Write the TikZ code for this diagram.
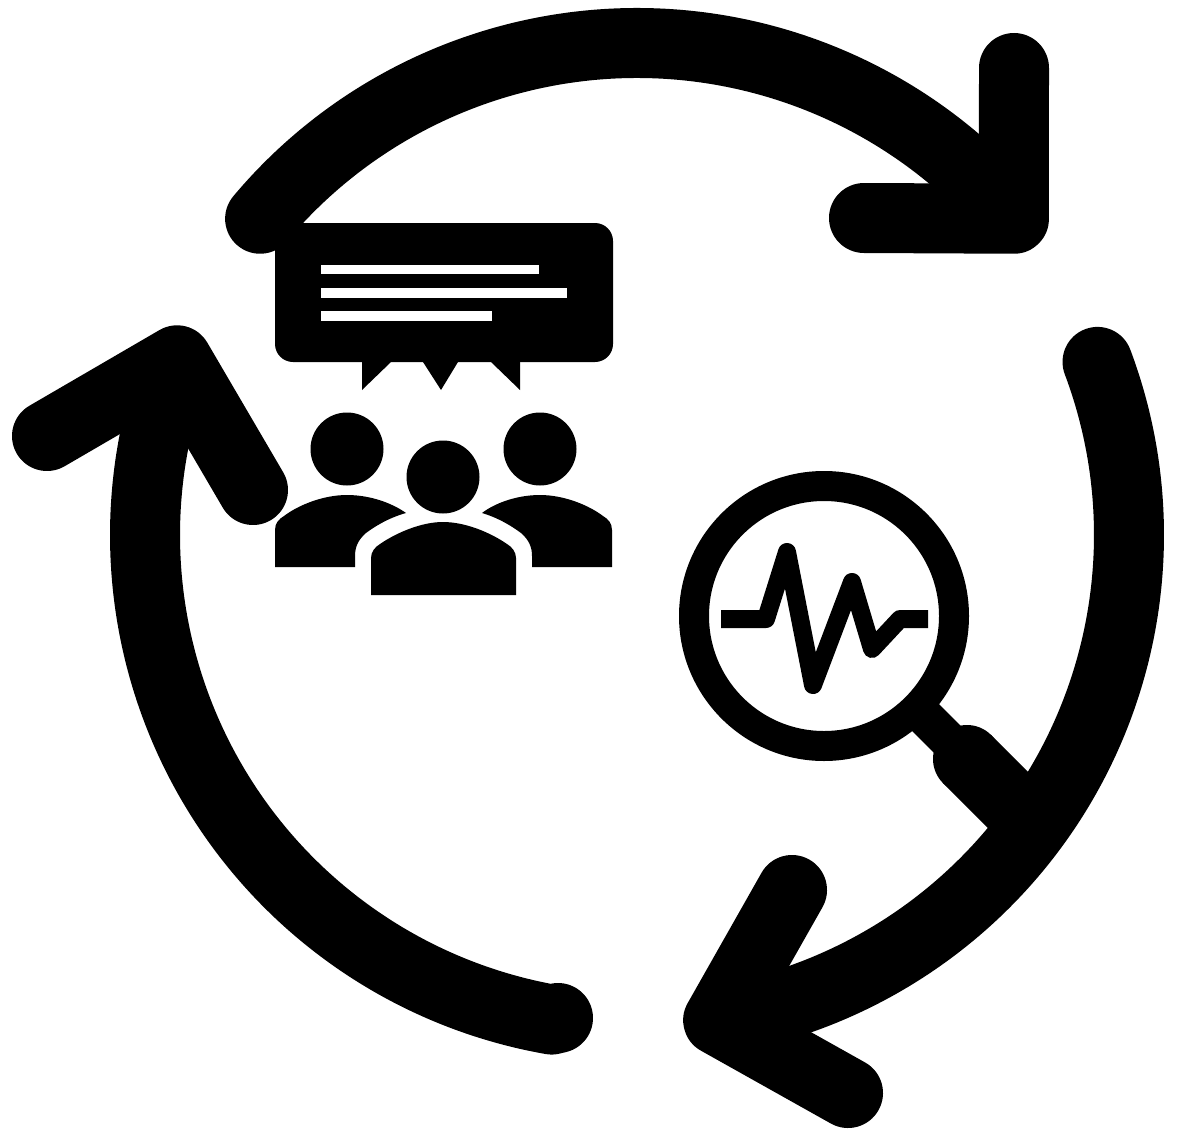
\documentclass[tikz,border=0pt]{standalone}
\usepackage{tikz}
\usetikzlibrary{calc}
\begin{document}
\begin{tikzpicture}[x=1pt, y=-1pt,
    sweep/.style={draw=black, line width=70pt, line cap=round, line join=round},
    trace/.style={draw=black, line width=18pt, line join=round},
    glyph/.style={fill=black, draw=none},
    textbar/.style={fill=white, draw=none}]
\fill[white] (0,0) rectangle (1178,1132);
\useasboundingbox (0,0) rectangle (1178,1132);
\coordinate (hub) at (637,535);
\coordinate (tiptop) at ($(hub)+(40:492pt)$);
\coordinate (tipright) at ($(hub)+(-80.5:492pt)$);
\coordinate (tipleft) at ($(hub)+(159.2:492pt)$);
% cycle arrows
\draw[sweep] ($(hub)+(140:492pt)$) arc[start angle=140, end angle=41, radius=492pt];
\draw[sweep] (864,218) -- (tiptop) -- (1014,68);
\draw[sweep] ($(hub)+(20.6:492pt)$) arc[start angle=20.6, end angle=-79.5, radius=492pt];
\draw[sweep] (792,890) -- (tipright) -- (848,1093);
\draw[sweep] (558,1018) -- ($(hub)+(260:492pt)$) arc[start angle=260, end angle=160.2, radius=492pt];
\draw[sweep] (47,436) -- (tipleft) -- (253,490);
% speech bubble
\fill[glyph, rounded corners=18pt] (275,223) rectangle (613,362);
\fill[glyph] (362,360) -- (362,390) -- (391,362) -- (391,360) -- cycle;
\fill[glyph] (423,360) -- (423,362) -- (441,390) -- (458,362) -- (458,360) -- cycle;
\fill[glyph] (491,360) -- (491,362) -- (520,390) -- (520,360) -- cycle;
\fill[textbar] (321,265) rectangle (539,274);
\fill[textbar] (321,288) rectangle (567,298);
\fill[textbar] (321,311) rectangle (492,321);
% people
\fill[glyph] (347,449) circle[radius=36.5pt];
\fill[glyph] (540,449) circle[radius=36.5pt];
\fill[glyph] (443,477) circle[radius=36.5pt];
\fill[glyph] (275,567) -- (275,530) .. controls (275,523) and (279,519) .. (284,516)
    .. controls (297,506) and (322,495) .. (347,495) .. controls (370,495) and (392,503) .. (406,513)
    .. controls (388,518) and (374,527) .. (366,533) .. controls (358,540) and (355,547) .. (355,556)
    -- (355,567) -- cycle;
\fill[glyph] (612,567) -- (612,530) .. controls (612,523) and (608,519) .. (603,516)
    .. controls (590,506) and (565,495) .. (540,495) .. controls (517,495) and (495,503) .. (482,513)
    .. controls (499,518) and (513,527) .. (521,533) .. controls (529,540) and (532,547) .. (532,556)
    -- (532,567) -- cycle;
\fill[glyph] (371,595) -- (371,558) .. controls (371,552) and (375,547) .. (380,544)
    .. controls (396,533) and (421,522) .. (443,522) .. controls (466,522) and (491,533) .. (507,544)
    .. controls (512,547) and (516,552) .. (516,558) -- (516,595) -- cycle;
% magnifier
\draw[draw=black, line width=30pt] (824,616) circle[radius=130pt];
\draw[draw=black, line width=38pt] (915,707) -- (967,759);
\fill[glyph] (967,759) circle[radius=34pt];
\draw[draw=black, line width=68pt] (967,759) -- (1030,822);
\draw[trace] (721,619) -- (766,619) -- (787,552) -- (813,685) -- (852,582) -- (872,649) -- (900,619) -- (928,619);
\end{tikzpicture}
\end{document}
